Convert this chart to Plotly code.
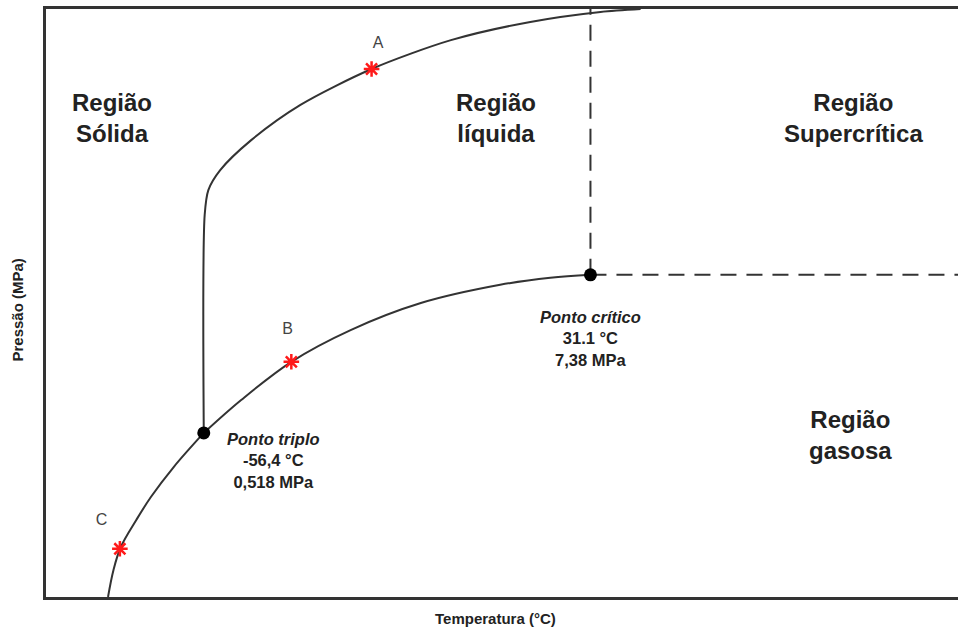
import plotly.graph_objects as go

# Phase diagram (schematic units: 0-100 for both axes)
sub_x = [6.8, 7.4, 8.2, 9.9, 11.5, 14.0, 17.3]
sub_y = [0.0, 4.6, 8.5, 13.1, 17.0, 22.1, 27.9]

vap_x = [17.3, 21.4, 26.9, 33.4, 41.1, 49.8, 55.3, 59.7]
vap_y = [27.9, 33.5, 40.0, 45.4, 50.0, 53.1, 54.3, 54.8]

melt_x = [17.3, 17.4, 17.8, 19.1, 22.5, 27.9, 35.7, 44.4, 53.1, 60.8, 65.2]
melt_y = [27.9, 65.0, 69.2, 72.6, 77.7, 83.7, 89.8, 94.7, 97.8, 99.5, 100.0]

triple = (17.3, 27.9)
critical = (59.7, 54.8)

star_labels = ["A", "B", "C"]
star_x = [35.7, 26.9, 8.1]
star_y = [89.8, 40.0, 8.2]
label_x = [36.4, 26.5, 6.1]
label_y = [94.1, 45.4, 12.9]

regions = ["Região<br>Sólida", "Região<br>líquida", "Região<br>Supercrítica", "Região<br>gasosa"]
region_x = [7.2, 49.3, 88.5, 88.2]
region_y = [81.5, 81.5, 81.5, 27.6]

LINE = "#333333"
TXT = "#222222"
FONT = "Liberation Sans, Arial, sans-serif"

fig = go.Figure()
fig.add_trace(go.Scatter(x=sub_x, y=sub_y, mode="lines", line=dict(color=LINE, width=2, shape="spline")))
fig.add_trace(go.Scatter(x=vap_x, y=vap_y, mode="lines", line=dict(color=LINE, width=2, shape="spline")))
fig.add_trace(go.Scatter(x=melt_x, y=melt_y, mode="lines", line=dict(color=LINE, width=2, shape="spline", smoothing=0.8)))
# dashed supercritical boundaries
fig.add_trace(go.Scatter(x=[critical[0], critical[0]], y=[critical[1], 100], mode="lines",
                         line=dict(color=LINE, width=2, dash="16px,10px")))
fig.add_trace(go.Scatter(x=[critical[0], 100], y=[critical[1], critical[1]], mode="lines",
                         line=dict(color=LINE, width=2, dash="16px,10px")))
# triple and critical points
fig.add_trace(go.Scatter(x=[triple[0], critical[0]], y=[triple[1], critical[1]], mode="markers",
                         marker=dict(color="black", size=13)))
# red stars
fig.add_trace(go.Scatter(x=star_x, y=star_y, mode="markers",
                         marker=dict(symbol="asterisk", size=13, line=dict(color="#ff1a1a", width=2.5))))
fig.add_trace(go.Scatter(x=label_x, y=label_y, mode="text", text=star_labels,
                         textfont=dict(family=FONT, size=16, color="#444444")))

ann = []
for t, x, y in zip(regions, region_x, region_y):
    ann.append(dict(x=x, y=y, xref="x", yref="y", text="<b>" + t + "</b>", showarrow=False,
                    font=dict(family=FONT, size=24, color=TXT)))
ann.append(dict(x=24.9, y=23.3, xref="x", yref="y", showarrow=False,
                text="<b><i>Ponto triplo</i></b><br><b>-56,4 °C</b><br><b>0,518 MPa</b>",
                font=dict(family=FONT, size=16.5, color=TXT)))
ann.append(dict(x=59.7, y=44.0, xref="x", yref="y", showarrow=False,
                text="<b><i>Ponto crítico</i></b><br><b>31.1 °C</b><br><b>7,38 MPa</b>",
                font=dict(family=FONT, size=16.5, color=TXT)))
ann.append(dict(x=0.493, y=0, xref="paper", yref="paper", yanchor="top", yshift=-11, showarrow=False,
                text="<b>Temperatura (°C)</b>", font=dict(family=FONT, size=15, color=TXT)))
ann.append(dict(x=0, y=0.488, xref="paper", yref="paper", xanchor="right", xshift=-18, showarrow=False,
                textangle=-90, text="<b>Pressão (MPa)</b>", font=dict(family=FONT, size=15, color=TXT)))

fig.update_layout(
    width=958, height=631,
    margin=dict(l=46, r=0, t=9, b=34),
    paper_bgcolor="white", plot_bgcolor="white",
    showlegend=False,
    annotations=ann,
    xaxis=dict(range=[0, 100], showgrid=False, zeroline=False, showticklabels=False, ticks="",
               showline=True, linecolor=LINE, linewidth=3, mirror=True),
    yaxis=dict(range=[0, 100], showgrid=False, zeroline=False, showticklabels=False, ticks="",
               showline=True, linecolor=LINE, linewidth=3),
)
fig.write_html("out.html")
